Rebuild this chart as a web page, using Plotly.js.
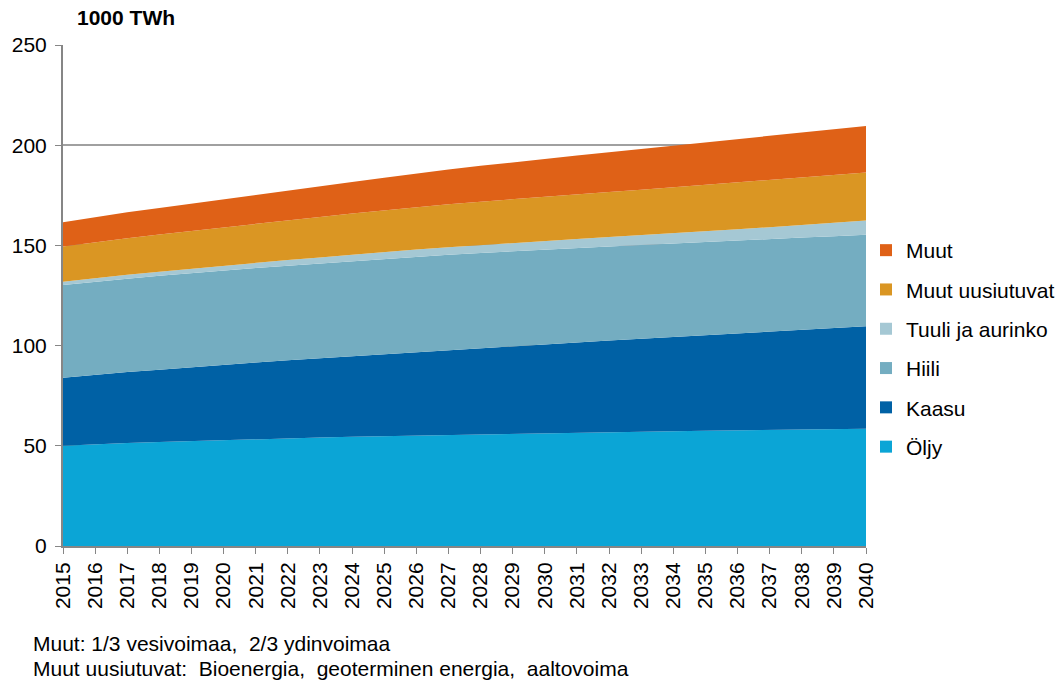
<!DOCTYPE html>
<html>
<head>
<meta charset="utf-8">
<script src="https://cdn.plot.ly/plotly-3.0.1.min.js"></script>
<style>
  html, body { margin: 0; padding: 0; background: #ffffff; }
  #chart { width: 1062px; height: 684px; }
</style>
</head>
<body>
<div id="chart"></div>
<script>
// Yearly energy demand by source, 1000 TWh
const years = [2015, 2016, 2017, 2018, 2019, 2020, 2021, 2022, 2023, 2024, 2025, 2026, 2027,
               2028, 2029, 2030, 2031, 2032, 2033, 2034, 2035, 2036, 2037, 2038, 2039, 2040];

const oljy = [50.0, 50.8, 51.4, 51.9, 52.4, 52.9, 53.3, 53.7, 54.1, 54.5, 54.8, 55.2, 55.5,
              55.8, 56.1, 56.4, 56.7, 56.9, 57.1, 57.3, 57.5, 57.7, 57.9, 58.1, 58.3, 58.5];
const kaasu = [34.0, 34.7, 35.4, 36.1, 36.9, 37.6, 38.3, 39.0, 39.6, 40.3, 41.0, 41.7, 42.4,
               43.1, 43.8, 44.4, 45.0, 45.7, 46.3, 47.0, 47.6, 48.3, 49.0, 49.7, 50.4, 51.1];
const hiili = [46.2, 46.4, 46.6, 46.8, 46.9, 47.0, 47.1, 47.2, 47.3, 47.4, 47.5, 47.5, 47.4,
               47.3, 47.2, 47.1, 47.0, 46.9, 46.8, 46.7, 46.6, 46.4, 46.2, 46.1, 45.9, 45.7];
const tuuliAurinko = [1.7, 1.8, 1.9, 2.1, 2.2, 2.4, 2.6, 2.8, 3.0, 3.2, 3.4, 3.6, 3.8,
                      4.0, 4.2, 4.4, 4.5, 4.7, 4.9, 5.1, 5.4, 5.7, 6.0, 6.3, 6.7, 7.1];
const muutUusiutuvat = [17.5, 17.9, 18.3, 18.6, 18.9, 19.2, 19.5, 19.8, 20.2, 20.5, 20.8, 21.1, 21.4,
                        21.6, 21.8, 22.1, 22.3, 22.5, 22.7, 22.9, 23.1, 23.3, 23.5, 23.6, 23.8, 24.0];
const muut = [12.1, 12.5, 12.9, 13.2, 13.5, 13.8, 14.2, 14.7, 15.2, 15.7, 16.3, 16.9, 17.4,
              17.9, 18.4, 18.9, 19.3, 19.8, 20.3, 20.9, 21.4, 21.8, 22.2, 22.5, 22.9, 23.2];

const seriesNames = ['Öljy', 'Kaasu', 'Hiili', 'Tuuli ja aurinko', 'Muut uusiutuvat', 'Muut'];
const seriesValues = [oljy, kaasu, hiili, tuuliAurinko, muutUusiutuvat, muut];
const seriesColors = ['#0BA5D6', '#0061A5', '#74ADC1', '#A5C8D4', '#DA9623', '#DF6117'];

const footnotes = [
  'Muut: 1/3 vesivoimaa,  2/3 ydinvoimaa',
  'Muut uusiutuvat:  Bioenergia,  geoterminen energia,  aaltovoima'
];

const FONT = 'Liberation Sans, Arial, sans-serif';
const FS = 21;

const traces = [];
// stacked areas, bottom to top
seriesNames.forEach((name, i) => {
  traces.push({
    type: 'scatter',
    x: years,
    y: seriesValues[i],
    name: name,
    stackgroup: 'energia',
    mode: 'lines',
    line: { width: 0, color: seriesColors[i] },
    fillcolor: seriesColors[i],
    showlegend: false,
    hoverinfo: 'x+y+name'
  });
});
// square legend keys, listed top of the stack first
for (let i = seriesNames.length - 1; i >= 0; i--) {
  traces.push({
    type: 'scatter',
    x: [null],
    y: [null],
    name: seriesNames[i],
    mode: 'markers',
    marker: { symbol: 'square', size: 12, color: seriesColors[i] },
    legendgroup: 'g' + i,
    showlegend: true
  });
}

const annotations = [
  {
    text: '<b>1000 TWh</b>',
    xref: 'paper', yref: 'paper',
    x: (75 - 63) / 803, y: (546 - 17) / 501,
    xanchor: 'left', yanchor: 'middle',
    showarrow: false,
    font: { family: FONT, size: FS, color: '#000000' }
  }
];
footnotes.forEach((t, i) => {
  annotations.push({
    text: t,
    xref: 'paper', yref: 'paper',
    x: (31 - 63) / 803, y: (546 - (643 + i * 25)) / 501,
    xanchor: 'left', yanchor: 'middle',
    showarrow: false,
    font: { family: FONT, size: 21, color: '#000000' }
  });
});

const layout = {
  width: 1062,
  height: 684,
  margin: { l: 63, r: 196, t: 45, b: 138, pad: 0, autoexpand: false },
  paper_bgcolor: '#ffffff',
  plot_bgcolor: '#ffffff',
  font: { family: FONT, size: FS, color: '#000000' },
  showlegend: true,
  legend: {
    x: 1.0, xanchor: 'left',
    y: (546 - 230) / 501, yanchor: 'top',
    traceorder: 'grouped',
    tracegroupgap: 9,
    font: { family: FONT, size: FS, color: '#000000' },
    itemwidth: 30,
    bgcolor: 'rgba(0,0,0,0)'
  },
  xaxis: {
    range: [2015, 2040],
    tickmode: 'array',
    tickvals: years,
    ticktext: years.map(String),
    tickangle: -90,
    ticks: 'outside',
    ticklen: 6,
    tickcolor: '#868686',
    showline: true,
    linecolor: '#868686',
    linewidth: 2,
    showgrid: false,
    zeroline: false,
    tickfont: { family: FONT, size: FS, color: '#000000' },
    fixedrange: true
  },
  yaxis: {
    range: [0, 250],
    tickmode: 'linear',
    tick0: 0,
    dtick: 50,
    ticks: 'outside',
    ticklen: 6,
    tickcolor: '#868686',
    ticklabelstandoff: 4,
    showline: true,
    linecolor: '#868686',
    linewidth: 2,
    showgrid: true,
    gridcolor: '#A0A0A0',
    gridwidth: 2,
    zeroline: false,
    tickfont: { family: FONT, size: FS, color: '#000000' },
    fixedrange: true
  },
  annotations: annotations
};

Plotly.newPlot('chart', traces, layout, { displayModeBar: false, staticPlot: true });
</script>
</body>
</html>
